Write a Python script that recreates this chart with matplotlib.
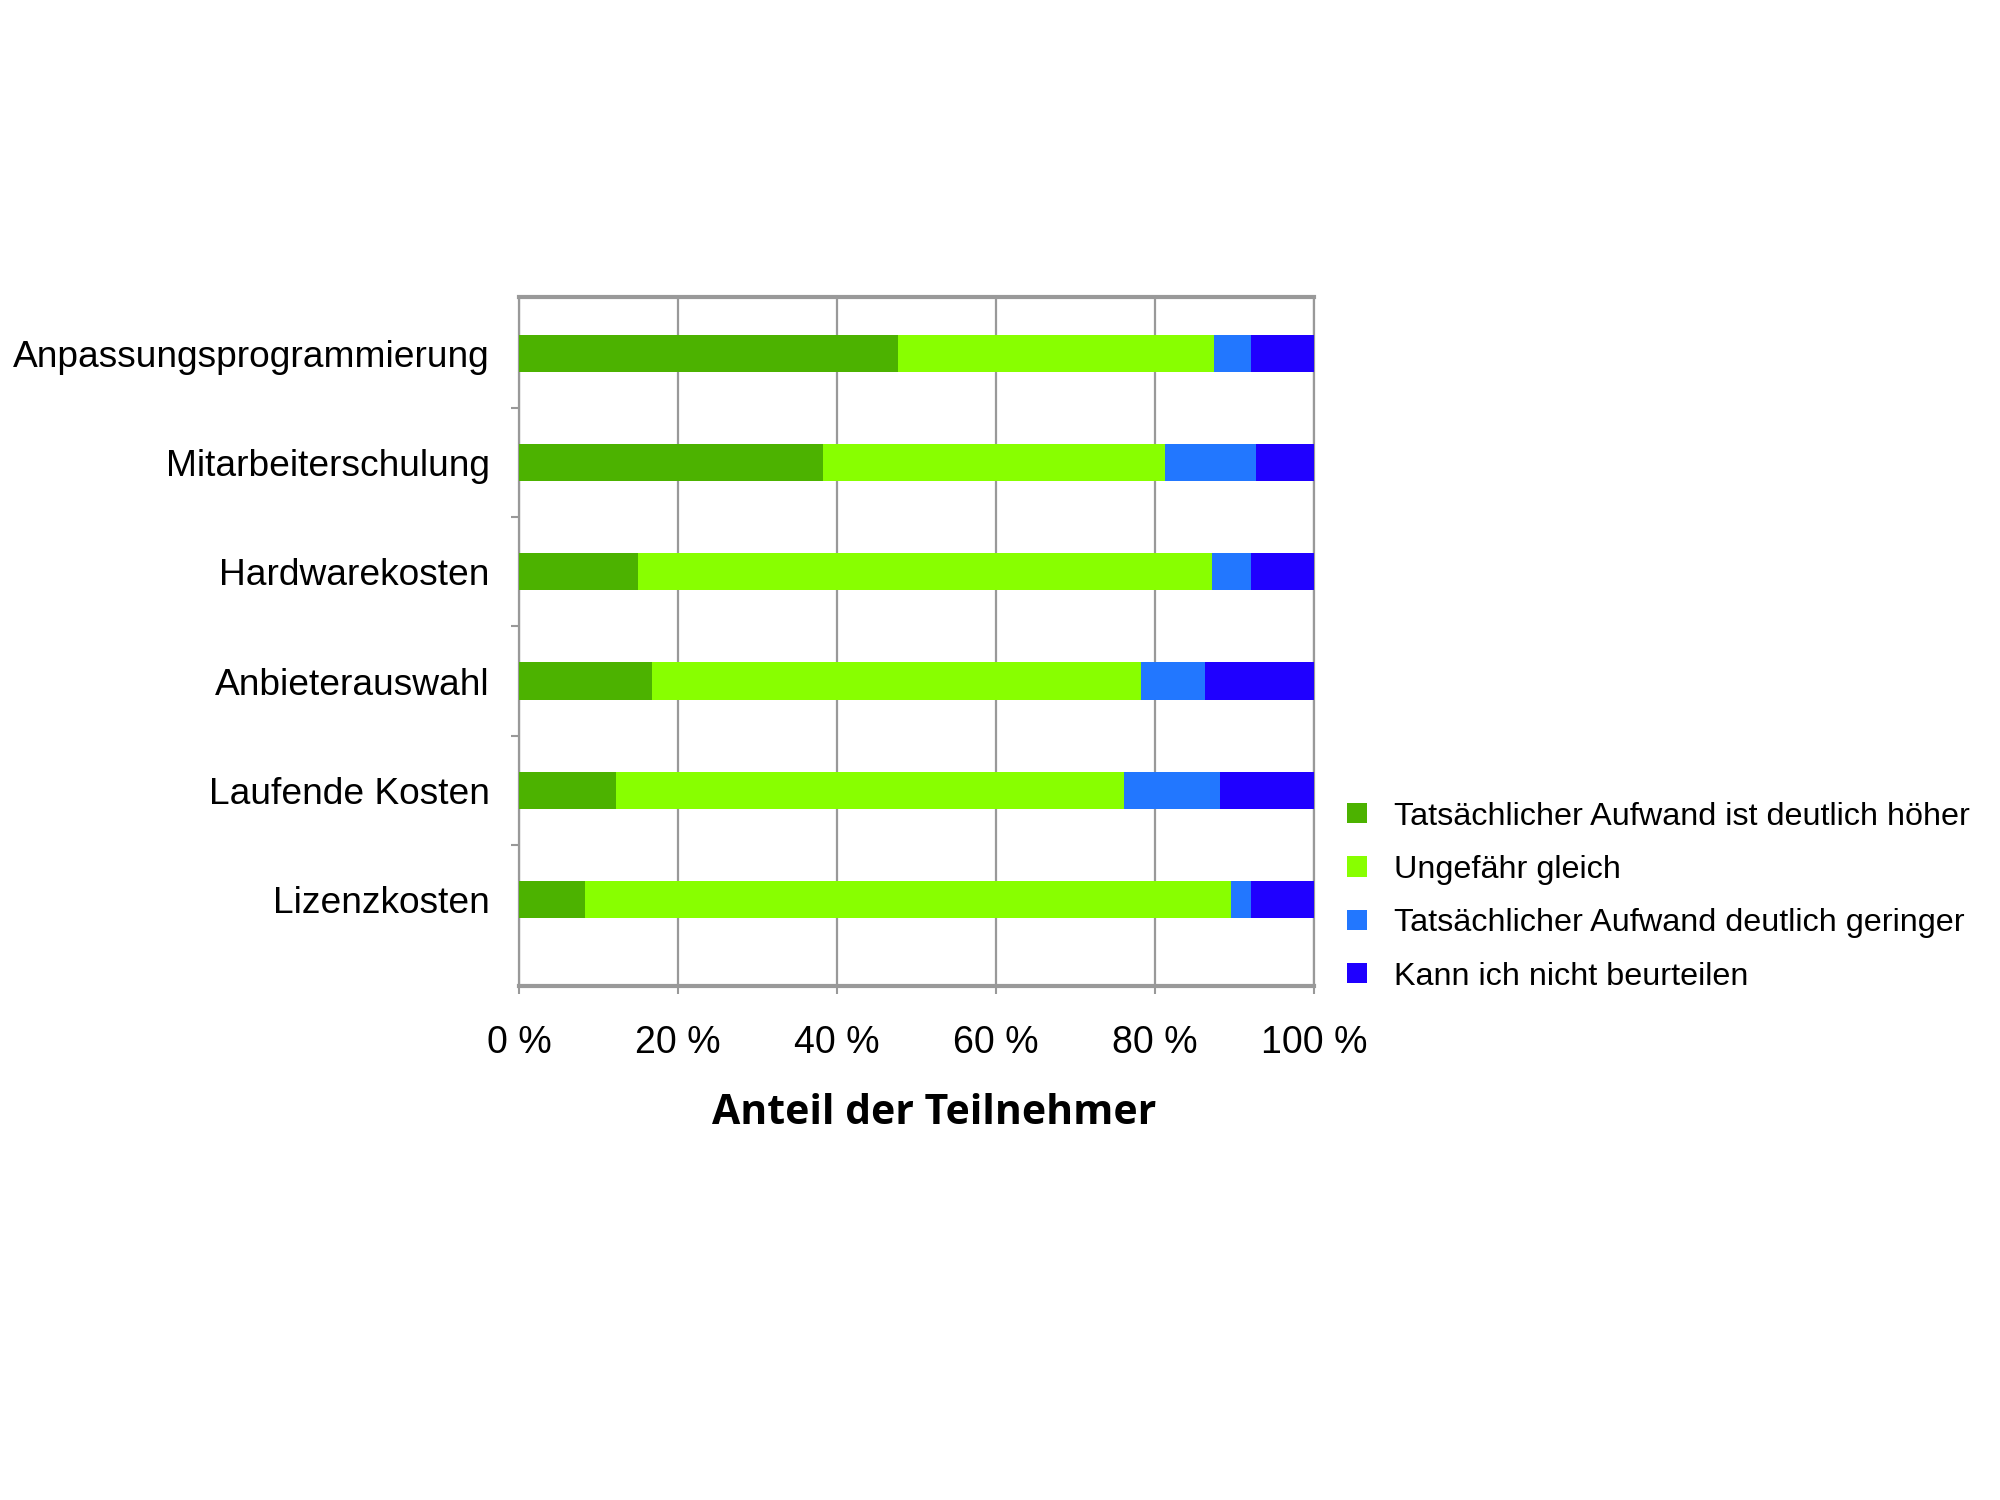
import matplotlib.pyplot as plt
import numpy as np

plt.rcParams['font.family'] = ['Liberation Sans', 'DejaVu Sans']

categories = ["Anpassungsprogrammierung", "Mitarbeiterschulung", "Hardwarekosten",
              "Anbieterauswahl", "Laufende Kosten", "Lizenzkosten"]
series_names = ["Tatsächlicher Aufwand ist deutlich höher", "Ungefähr gleich",
                "Tatsächlicher Aufwand deutlich geringer", "Kann ich nicht beurteilen"]
hoeher = [47.7, 38.2, 15.0, 16.7, 12.2, 8.3]
gleich = [39.7, 43.0, 72.2, 61.6, 63.9, 81.2]
geringer = [4.7, 11.5, 4.9, 8.0, 12.1, 2.6]
unklar = [7.9, 7.3, 7.9, 13.7, 11.8, 7.9]
colors = ["#4cb200", "#88ff00", "#2277ff", "#1f00ff"]
xticks = [0, 20, 40, 60, 80, 100]

fig = plt.figure(figsize=(20, 15), dpi=100)
ax = fig.add_axes([0.2595, 0.3427, 0.3975, 0.4593])

y = np.arange(len(categories))
left = np.zeros(len(categories))
handles = []
for vals, col, name in zip([hoeher, gleich, geringer, unklar], colors, series_names):
    b = ax.barh(y, vals, left=left, height=0.34, color=col, label=name, zorder=3)
    handles.append(b)
    left += np.array(vals)

ax.set_xlim(0, 100)
ax.set_ylim(5.79, -0.514)
ax.set_xticks(xticks)
ax.set_xticklabels([f"{v} %" for v in xticks], fontsize=27)
ax.set_yticks(y)
ax.set_yticklabels(categories, fontsize=26.7)
ax.set_yticks(np.arange(0.5, 5, 1), minor=True)
ax.tick_params(axis='y', which='major', length=0, pad=21)
ax.tick_params(axis='y', which='minor', length=6, color='#999999', width=1.5)
ax.tick_params(axis='x', length=6, color='#999999', width=1.5, pad=22)

ax.grid(axis='x', color='#999999', linewidth=1.6, zorder=0)
for s in ['top', 'bottom']:
    ax.spines[s].set_color('#999999')
    ax.spines[s].set_linewidth(3)
for s in ['left', 'right']:
    ax.spines[s].set_color('#999999')
    ax.spines[s].set_linewidth(1.6)

ax.set_xlabel("Anteil der Teilnehmer", fontsize=29.5, fontweight='bold',
              family=['Open Sans', 'DejaVu Sans'])
ax.xaxis.set_label_coords(0.522, -0.156)

fig.legend(handles=handles, loc='upper left', bbox_to_anchor=(0.659, 0.485),
           frameon=False, fontsize=23.3, handlelength=0.6, handleheight=0.6,
           handletextpad=0.85, labelspacing=0.72)

fig.savefig("out.png", dpi=100)
